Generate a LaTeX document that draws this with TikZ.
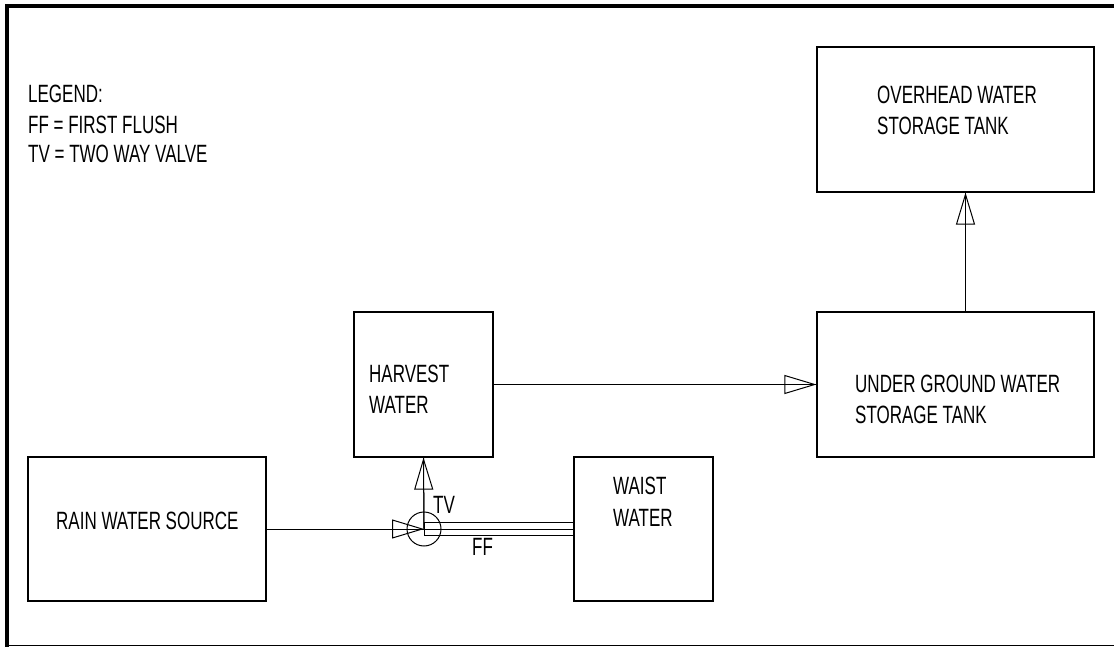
\documentclass[tikz,border=0pt]{standalone}
\usepackage{fontspec}
\setmainfont{Liberation Sans}[FakeStretch=0.68]
\usetikzlibrary{arrows.meta,positioning}
\tikzset{
  tank/.style={draw,line width=1.2pt,inner sep=0pt,minimum height=145pt},
  lbl/.style={inner sep=0pt,anchor=base west,font=\fontsize{25}{30}\selectfont},
  pipe/.style={line width=1pt},
  flow/.style={line width=1pt,-{Triangle[open,length=32pt,width=19pt,line width=1pt]},postaction={draw,-}}
}
\begin{document}
\begin{tikzpicture}[x=1pt,y=-1pt]
\useasboundingbox (0,0) rectangle (1114,647);
\draw[line width=4pt] (7,647) -- (7,6) -- (1114,6);
\draw[line width=1.5pt] (5,645.5) -- (1114,645.5);
\node[tank,minimum width=238pt,minimum height=144pt] (rain) at (147,529) {};
\node[tank,minimum width=139pt] (harvest) at (423.5,384.5) {};
\node[tank,minimum width=139pt,minimum height=144pt] (waist) at (643.5,529) {};
\node[tank,minimum width=277pt] (ground) at (955.5,384.5) {};
\node[tank,minimum width=277pt] (overhead) at (955.5,119.5) {};
\node[draw,circle,line width=1pt,minimum size=34pt,inner sep=0pt] (valve) at (424,529) {};
\draw[flow] (rain.east) -- (valve.center);
\draw[flow] (valve.center) -- (harvest.south);
\draw[flow] (harvest.east) -- (ground.west);
\draw[flow] ([xshift=10pt]ground.north) -- ([xshift=10pt]overhead.south);
\draw[pipe] (valve.center) -- (waist.west);
\draw[pipe] ([yshift=6.5pt]valve.center) -- ([yshift=6.5pt]waist.west);
\draw[pipe] ([yshift=-6.5pt]valve.center) -- ([yshift=-6.5pt]waist.west);
\draw[pipe] ([yshift=6.5pt]valve.center) -- ([yshift=-6.5pt]valve.center);
\node[lbl] (leg1) at (28,103) {LEGEND:};
\node[lbl] (leg2) at (28,134) {FF = FIRST FLUSH};
\node[lbl] (leg3) at (28,163) {TV = TWO WAY VALVE};
\node[lbl] (rainTxt) at (56,529) {RAIN WATER SOURCE};
\node[lbl] (harvestTxt1) at (369,382) {HARVEST};
\node[lbl] (harvestTxt2) at (369,413) {WATER};
\node[lbl] (waistTxt1) at (613,494) {WAIST};
\node[lbl] (waistTxt2) at (613,526) {WATER};
\node[lbl] (groundTxt1) at (855,392) {UNDER GROUND WATER};
\node[lbl] (groundTxt2) at (855,423) {STORAGE TANK};
\node[lbl] (overheadTxt1) at (877,104) {OVERHEAD WATER};
\node[lbl] (overheadTxt2) at (877,135) {STORAGE TANK};
\node[lbl] (tvTxt) at (433,513) {TV};
\node[lbl] (ffTxt) at (472,555) {FF};
\end{tikzpicture}
\end{document}
